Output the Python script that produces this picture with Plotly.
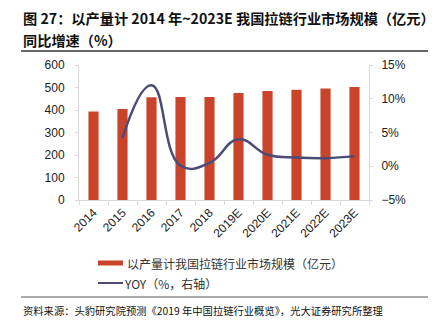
import plotly.graph_objects as go

years = ["2014", "2015", "2016", "2017", "2018", "2019E", "2020E", "2021E", "2022E", "2023E"]
market_size = [393, 405, 457, 458, 458, 476, 484, 490, 496, 502]
yoy_pct = [None, 4.2, 12.0, 0.1, 0.5, 4.0, 1.7, 1.3, 1.2, 1.5]

bar_name = "以产量计我国拉链行业市场规模（亿元）"
line_name = "YOY（%，右轴）"
title_line1 = "图 27：以产量计 2014 年~2023E 我国拉链行业市场规模（亿元）"
title_line2 = "同比增速（%）"
source_text = "资料来源：头豹研究院预测《2019 年中国拉链行业概览》，光大证券研究所整理"

BAR_COLOR = "#C9442A"
LINE_COLOR = "#4B4B78"
AXIS_COLOR = "#D9D9D9"
CJK = "Noto Sans CJK SC"
LAT = "Liberation Sans, Arial, sans-serif"

W, H = 436, 321
L, R, T, B = 79, 67, 65, 121
pw, ph = W - L - R, H - T - B

def px(x):
    return (x - L) / pw

def py(y):
    return (H - B - y) / ph

fig = go.Figure()
fig.add_trace(go.Bar(x=years, y=market_size, name=bar_name, marker_color=BAR_COLOR,
                     marker_line_width=0, width=0.35, showlegend=False))
fig.add_trace(go.Scatter(x=years, y=yoy_pct, name=line_name, yaxis="y2", mode="lines",
                         line=dict(color=LINE_COLOR, width=2.5, shape="spline", smoothing=1.3),
                         connectgaps=False, showlegend=False))

tf = dict(family=LAT, size=12, color="#222")
fig.update_layout(
    width=W, height=H,
    margin=dict(l=L, r=R, t=T, b=B),
    paper_bgcolor="white", plot_bgcolor="white",
    font=dict(family=LAT, size=12, color="#222"),
    xaxis=dict(type="category", showgrid=False, showline=True, linecolor=AXIS_COLOR, linewidth=1,
               ticks="outside", tickson="boundaries", ticklen=4, tickcolor=AXIS_COLOR,
               tickangle=-45, tickfont=tf),
    yaxis=dict(range=[0, 600], dtick=100, showgrid=False, zeroline=False, showline=True,
               linecolor=AXIS_COLOR, ticks="outside", ticklen=3, tickcolor=AXIS_COLOR,
               tickfont=tf, ticklabelstandoff=8),
    yaxis2=dict(range=[-5, 15], dtick=5, overlaying="y", side="right", showgrid=False,
                zeroline=False, showline=True, linecolor=AXIS_COLOR, ticks="outside",
                ticklen=3, tickcolor=AXIS_COLOR, ticksuffix="%",
                tickfont=tf, ticklabelstandoff=6),
    showlegend=False,
)

# Title (two lines)
fig.add_annotation(x=px(21), y=py(18), xref="paper", yref="paper", xanchor="left", yanchor="middle",
                   text="<b>" + title_line1 + "</b>", showarrow=False,
                   font=dict(family=CJK, size=14.2, color="#111"))
fig.add_annotation(x=px(21), y=py(40), xref="paper", yref="paper", xanchor="left", yanchor="middle",
                   text="<b>" + title_line2 + "</b>", showarrow=False,
                   font=dict(family=CJK, size=14.2, color="#111"))
# rules
fig.add_shape(type="line", xref="paper", yref="paper", x0=px(21), x1=px(428), y0=py(51), y1=py(51),
              line=dict(color="#333", width=1.3))
fig.add_shape(type="line", xref="paper", yref="paper", x0=px(21), x1=px(428), y0=py(297), y1=py(297),
              line=dict(color="#555", width=1))
fig.add_annotation(x=px(21), y=py(310), xref="paper", yref="paper", xanchor="left", yanchor="middle",
                   text=source_text, showarrow=False, font=dict(family=CJK, size=10.3, color="#111"))

# Manual legend
fig.add_shape(type="rect", xref="paper", yref="paper", x0=px(98), x1=px(123), y0=py(265.5), y1=py(260.5),
              fillcolor=BAR_COLOR, line_width=0)
fig.add_annotation(x=px(125), y=py(263), xref="paper", yref="paper", xanchor="left", yanchor="middle",
                   text=bar_name, showarrow=False, font=dict(family=CJK, size=12, color="#333"))
fig.add_shape(type="line", xref="paper", yref="paper", x0=px(98), x1=px(123), y0=py(283), y1=py(283),
              line=dict(color=LINE_COLOR, width=2))
fig.add_annotation(x=px(122), y=py(283), xref="paper", yref="paper", xanchor="left", yanchor="middle",
                   text=line_name, showarrow=False, font=dict(family=CJK, size=12, color="#333"))

fig.write_html("out.html")
